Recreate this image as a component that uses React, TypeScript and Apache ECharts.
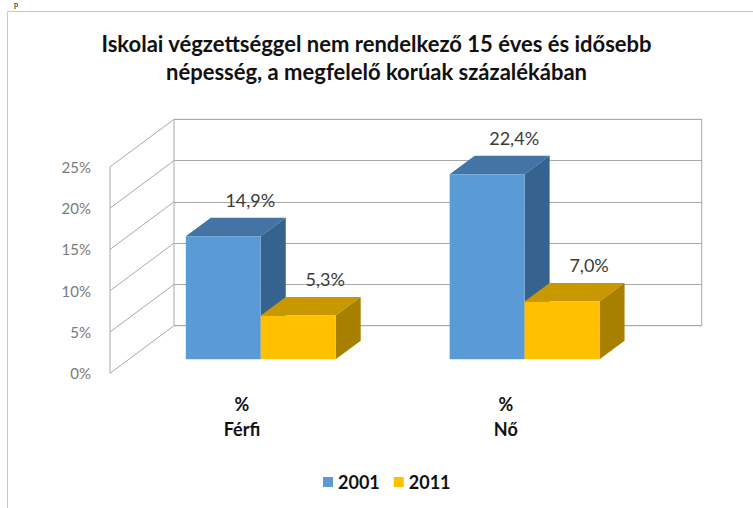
import React, { useEffect, useRef } from 'react';
import * as echarts from 'echarts';

const categories = ['Férfi', 'Nő'];
const categoryPrefix = '%';
const seriesNames = ['2001', '2011'];
const values2001 = [14.9, 22.4];
const values2011 = [5.3, 7.0];
const yTicks = [0, 5, 10, 15, 20, 25];

const TITLE = 'Iskolai végzettséggel nem rendelkező 15 éves és idősebb\nnépesség, a megfelelő korúak százalékában';

const DEPTH = [64, -47.6];
const FRONT_T = 0.706;
const BACK_T = 0.315;
const BAR_FRAC = 0.284;
const GRID = '#a9a9a9';
const FONT = 'Lato, "Noto Sans", sans-serif';

const faces = [
  { front: '#5b9bd5', top: '#4473a5', side: '#36628f' },
  { front: '#ffc000', top: '#c99700', side: '#a78000' },
];

function fmt(v: number) {
  return v.toFixed(1).replace('.', ',') + '%';
}

function barRender(si: number) {
  return (params: any, api: any) => {
    const i = api.value(0);
    const v = api.value(1);
    const base = api.coord([i, 0]);
    const top = api.coord([i, v]);
    const bw = api.size([1, 0])[0] * BAR_FRAC;
    const cx = base[0];
    const xl = si === 0 ? cx - bw : cx;
    const xr = xl + bw;
    const fx = -FRONT_T * DEPTH[0];
    const fy = -FRONT_T * DEPTH[1];
    const bx = -BACK_T * DEPTH[0];
    const by = -BACK_T * DEPTH[1];
    const FL = xl + fx, FR = xr + fx, FB = base[1] + fy, FT = top[1] + fy;
    const BL = xl + bx, BR = xr + bx, BT = top[1] + by, BB = base[1] + by;
    const c = faces[si];
    return {
      type: 'group',
      children: [
        { type: 'polygon', shape: { points: [[FL, FT], [FR, FT], [BR, BT], [BL, BT]] }, style: { fill: c.top } },
        { type: 'polygon', shape: { points: [[FR, FT], [BR, BT], [BR, BB], [FR, FB]] }, style: { fill: c.side } },
        { type: 'rect', shape: { x: FL, y: FT, width: bw, height: FB - FT }, style: { fill: c.front } },
        {
          type: 'text',
          x: (BL + BR) / 2 + 2,
          y: BT - 18,
          style: { text: fmt(v), fill: '#3a3a3a', font: '18px ' + FONT, align: 'center', verticalAlign: 'middle' },
        },
      ],
    };
  };
}

function wallRender(params: any, api: any) {
  const v = api.value(1);
  const cs = params.coordSys;
  const x = cs.x;
  const y = api.coord([0, v])[1];
  const children: any[] = [
    { type: 'line', shape: { x1: x, y1: y, x2: x - DEPTH[0], y2: y - DEPTH[1] }, style: { stroke: GRID, lineWidth: 1 } },
  ];
  if (params.dataIndex === 0) {
    const yTop = api.coord([0, yTicks[yTicks.length - 1]])[1];
    children.push({
      type: 'line',
      shape: { x1: x - DEPTH[0], y1: y - DEPTH[1], x2: x - DEPTH[0], y2: yTop - DEPTH[1] },
      style: { stroke: GRID, lineWidth: 1 },
    });
  }
  return { type: 'group', children };
}

export default function App() {
  const ref = useRef<HTMLDivElement>(null);
  useEffect(() => {
    if (!ref.current) return;
    const chart = echarts.init(ref.current, null, { renderer: 'svg' });
    const yMax = yTicks[yTicks.length - 1];
    const yStep = yTicks[1] - yTicks[0];
    chart.setOption({
      animation: false,
      backgroundColor: '#ffffff',
      title: {
        text: TITLE,
        left: 'center',
        top: 24,
        textStyle: { fontFamily: FONT, fontSize: 22, fontWeight: 'bold', color: '#111', lineHeight: 28 },
      },
      legend: {
        data: seriesNames,
        left: 318,
        top: 468,
        icon: 'rect',
        itemWidth: 10,
        itemHeight: 10,
        itemGap: 14,
        textStyle: { fontFamily: FONT, fontSize: 18, fontWeight: 'bold', color: '#111' },
      },
      graphic: [
        { type: 'rect', shape: { x: 7.5, y: 11.5, width: 800, height: 600 }, style: { fill: 'none', stroke: '#c8c8c8', lineWidth: 1 } },
        { type: 'text', x: 14, y: 0, style: { text: 'p', font: '8px "Liberation Serif", serif', fill: '#000' } },
      ],
      grid: [
        { left: 174, top: 119.3, width: 527.7, height: 206.4, show: true, borderColor: GRID, borderWidth: 1, backgroundColor: 'transparent' },
        { left: 110, top: 166.9, width: 527.7, height: 206.4 },
      ],
      xAxis: [
        { type: 'category', gridIndex: 0, data: categories, show: false },
        {
          type: 'category',
          gridIndex: 1,
          data: categories,
          axisLine: { show: false },
          axisTick: { show: false },
          axisLabel: {
            formatter: (v: string) => categoryPrefix + '\n' + v,
            fontFamily: FONT,
            fontSize: 18,
            fontWeight: 'bold',
            color: '#111',
            lineHeight: 25,
            margin: 18,
          },
        },
      ],
      yAxis: [
        {
          type: 'value',
          gridIndex: 0,
          min: 0,
          max: yMax,
          interval: yStep,
          axisLabel: { show: false },
          axisLine: { show: false },
          axisTick: { show: false },
          splitLine: { show: true, lineStyle: { color: GRID, width: 1 } },
        },
        {
          type: 'value',
          gridIndex: 1,
          min: 0,
          max: yMax,
          interval: yStep,
          axisLabel: { formatter: '{value}%', fontFamily: FONT, fontSize: 15, color: '#7a7a7a', margin: 19 },
          axisLine: { show: false },
          axisTick: { show: false },
          splitLine: { show: false },
        },
      ],
      series: [
        {
          type: 'custom',
          name: 'wall',
          xAxisIndex: 0,
          yAxisIndex: 0,
          renderItem: wallRender,
          data: yTicks.map((t) => [0, t]),
          encode: { x: 0, y: 1 },
          silent: true,
          z: 1,
        },
        {
          type: 'custom',
          name: seriesNames[0],
          xAxisIndex: 0,
          yAxisIndex: 0,
          itemStyle: { color: faces[0].front },
          renderItem: barRender(0),
          data: values2001.map((v, i) => [i, v]),
          encode: { x: 0, y: 1 },
          z: 3,
        },
        {
          type: 'custom',
          name: seriesNames[1],
          xAxisIndex: 0,
          yAxisIndex: 0,
          itemStyle: { color: faces[1].front },
          renderItem: barRender(1),
          data: values2011.map((v, i) => [i, v]),
          encode: { x: 0, y: 1 },
          z: 4,
        },
      ],
    });
    return () => chart.dispose();
  }, []);
  return <div ref={ref} style={{ position: 'absolute', left: 0, top: 0, width: 753, height: 508 }} />;
}
